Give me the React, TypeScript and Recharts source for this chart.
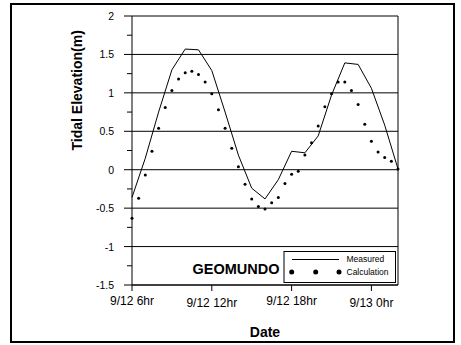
import { ComposedChart, Line, XAxis, YAxis, ReferenceLine } from 'recharts';

// hourly measured tide, 9/12 06:00 (hour 6) to 9/13 02:00 (hour 26)
const measuredHours = [6, 7, 8, 9, 10, 11, 12, 13, 14, 15, 16, 17, 18, 19, 20, 21, 22, 23, 24, 25, 26];
const measured = [-0.36, 0.15, 0.75, 1.3, 1.57, 1.56, 1.29, 0.75, 0.19, -0.24, -0.38, -0.13, 0.24, 0.22, 0.44, 0.97, 1.39, 1.37, 1.06, 0.58, 0.01];

// half-hourly calculated tide
const calcHours = [
  6, 6.5, 7, 7.5, 8, 8.5, 9, 9.5, 10, 10.5, 11, 11.5, 12, 12.5, 13, 13.5, 14, 14.5, 15, 15.5, 16,
  16.5, 17, 17.5, 18, 18.5, 19, 19.5, 20, 20.5, 21, 21.5, 22, 22.5, 23, 23.5, 24, 24.5, 25, 25.5, 26,
];
const calculation = [
  -0.63, -0.37, -0.07, 0.24, 0.54, 0.81, 1.03, 1.18, 1.26, 1.28, 1.24, 1.14, 0.99, 0.78, 0.54, 0.28, 0.04,
  -0.19, -0.38, -0.48, -0.51, -0.43, -0.36, -0.18, -0.06, -0.02, 0.19, 0.35, 0.57, 0.82, 0.99, 1.14, 1.14,
  1.03, 0.85, 0.59, 0.37, 0.23, 0.16, 0.11, 0.01,
];

const xTicks = [6, 12, 18, 24];
const xTickLabels = ['9/12 6hr', '9/12 12hr', '9/12 18hr', '9/13 0hr'];
const yTicks = [-1.5, -1.25, -1, -0.75, -0.5, -0.25, 0, 0.25, 0.5, 0.75, 1, 1.25, 1.5, 1.75, 2];
const yGrid = [-1.5, -1, -0.5, 0, 0.5, 1, 1.5, 2];

const data = calcHours.map((hour, i) => {
  const m = measuredHours.indexOf(hour);
  return { hour, calculation: calculation[i], measured: m >= 0 ? measured[m] : null };
});

const FONT = '"Liberation Sans", Arial, sans-serif';

const YTick = ({ x, y, payload }: any) => {
  const major = yGrid.includes(payload.value);
  return (
    <g>
      <line x1={x - (major ? 8 : 5)} x2={x} y1={y} y2={y} stroke="#000" />
      {major && (
        <text x={x - 18} y={y + 4} textAnchor="end" fontSize={10.5} fontFamily={FONT} fill="#000">
          {payload.value}
        </text>
      )}
    </g>
  );
};

const XTick = ({ x, y, payload }: any) => {
  const i = xTicks.indexOf(payload.value);
  return (
    <text x={x} y={y + (i % 2 === 0 ? 14 : 16)} textAnchor="middle" fontSize={12} fontFamily={FONT} fill="#000">
      {xTickLabels[i]}
    </text>
  );
};

// legend box and site name, laid over the plot
const LegendBox = () => (
  <svg width={220} height={40} style={{ position: 'absolute', left: 180, top: 248 }}>
    <text x={12.5} y={26} fontSize={14.5} fontWeight="bold" fontFamily={FONT} fill="#000">
      GEOMUNDO
    </text>
    <rect x={104} y={3.5} width={111.5} height={31} fill="#fff" stroke="#000" />
    <line x1={112} x2={159} y1={11.5} y2={11.5} stroke="#000" />
    <text x={166.5} y={14} fontSize={8.5} fontFamily={FONT} fill="#000">Measured</text>
    {[111.7, 135.7, 159].map((cx) => (
      <circle key={cx} cx={cx} cy={24} r={2.5} fill="#000" />
    ))}
    <text x={166.5} y={27} fontSize={8.5} fontFamily={FONT} fill="#000">Calculation</text>
  </svg>
);

export default function App() {
  return (
    <div style={{ position: 'absolute', left: 0, top: 0, width: 461, height: 345, background: '#fff' }}>
      <div
        style={{
          position: 'absolute',
          left: 10,
          top: 3,
          width: 445,
          height: 340,
          border: '2px solid #000',
          boxSizing: 'border-box',
        }}
      />
      <div style={{ position: 'absolute', left: 0, top: 0 }}>
        <ComposedChart width={461} height={345} data={data} margin={{ top: 16, right: 63, bottom: 0, left: 0 }}>
          <XAxis
            dataKey="hour"
            type="number"
            domain={[6, 26]}
            ticks={xTicks}
            interval={0}
            height={60}
            tickSize={6}
            tickMargin={0}
            tickLine={{ stroke: '#000' }}
            axisLine={{ stroke: '#000' }}
            tick={<XTick />}
            label={{
              value: 'Date',
              position: 'insideBottom',
              offset: 8,
              fontSize: 14,
              fontWeight: 'bold',
              fontFamily: FONT,
              fill: '#000',
            }}
          />
          <YAxis
            type="number"
            domain={[-1.5, 2]}
            ticks={yTicks}
            interval={0}
            width={132}
            tickSize={0}
            tickMargin={0}
            tickLine={false}
            axisLine={{ stroke: '#000' }}
            tick={<YTick />}
            label={{
              value: 'Tidal Elevation(m)',
              angle: -90,
              position: 'insideLeft',
              offset: 77,
              fontSize: 14,
              fontWeight: 'bold',
              fontFamily: FONT,
              fill: '#000',
            }}
          />
          {yGrid.map((v) => (
            <ReferenceLine key={v} y={v} stroke="#000" strokeWidth={1} />
          ))}
          <ReferenceLine x={26} stroke="#000" strokeWidth={1} />
          <Line
            dataKey="measured"
            type="linear"
            stroke="#000"
            strokeWidth={1}
            dot={false}
            activeDot={false}
            connectNulls
            isAnimationActive={false}
          />
          <Line
            dataKey="calculation"
            type="linear"
            stroke="none"
            dot={{ r: 1.5, fill: '#000', stroke: 'none' }}
            activeDot={false}
            isAnimationActive={false}
          />
        </ComposedChart>
      </div>
      <LegendBox />
    </div>
  );
}
